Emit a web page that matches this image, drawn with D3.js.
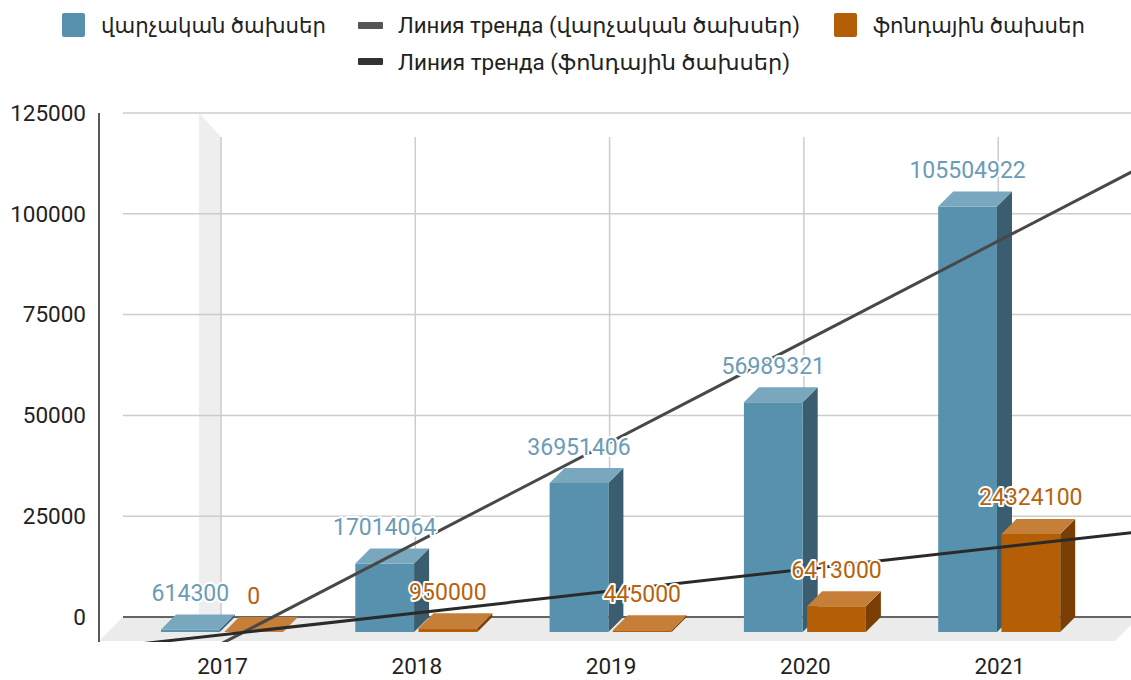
<!DOCTYPE html>
<html>
<head>
<meta charset="utf-8">
<script src="https://cdn.jsdelivr.net/npm/d3@7"></script>
<style>
  body { margin: 0; background: #fff; }
  text { font-family: Roboto, "DejaVu Sans", sans-serif; }
</style>
</head>
<body>
<script>
// data
var years = ["2017", "2018", "2019", "2020", "2021"];
var seriesNames = ["վարչական ծախսեր", "ֆոնդային ծախսեր"];
var admin = [614300, 17014064, 36951406, 56989321, 105504922];
var fund = [0, 950000, 445000, 6413000, 24324100];
var trendNames = ["Линия тренда (վարչական ծախսեր)", "Линия тренда (ֆոնդային ծախսեր)"];
var yTicks = [0, 25000000, 50000000, 75000000, 100000000, 125000000];

var W = 1131, H = 680;
var depth = 15;
var Color = {
  blueFront: "#5891ad", blueTop: "#78a7be", blueSide: "#3a5d6f", blueLabel: "#6a9cb7",
  orangeFront: "#b45f06", orangeTop: "#c57f38", orangeSide: "#793f04", orangeLabel: "#b8620c",
  trendBlue: "#484848", trendOrange: "#2a2a2a"
};

var svg = d3.select("body").append("svg")
  .attr("width", W).attr("height", H);

// scales
var x = d3.scalePoint().domain(years).range([222, 999.2]);
var x1 = d3.scaleBand().domain([0, 1]).range([-61, 61]).paddingInner(0.07);
var y = d3.scaleLinear().domain([0, 125000000]).range([617, 113]);
var idx = d3.scaleLinear().domain([0, years.length - 1]).range([x(years[0]), x(years[years.length - 1])]);

// left wall strip
svg.append("path")
  .attr("d", d3.line()([[x("2017") - 23, y(125000000)], [x("2017") - 1, y(125000000) + 24], [x("2017") - 1, y(0)], [x("2017") - 23, y(0)]]))
  .attr("fill", "#eeeeee");

// horizontal gridlines
svg.append("g").selectAll("line")
  .data(yTicks.slice(1))
  .enter().append("line")
  .attr("x1", 123).attr("x2", W)
  .attr("y1", function(d) { return y(d); }).attr("y2", function(d) { return y(d); })
  .attr("stroke", "#cccccc").attr("stroke-width", 1.5);

// vertical gridlines
svg.append("g").selectAll("line")
  .data(years)
  .enter().append("line")
  .attr("x1", function(d) { return x(d) - 1; }).attr("x2", function(d) { return x(d) - 1; })
  .attr("y1", y(125000000) + 24).attr("y2", y(0))
  .attr("stroke", "#cccccc").attr("stroke-width", 1.5);

// floor
svg.append("path")
  .attr("d", d3.line()([[123, y(0)], [1139, y(0)], [1115, y(0) + 24], [99, y(0) + 24]]))
  .attr("fill", "#ebebeb");

svg.append("line")
  .attr("x1", 123).attr("x2", W).attr("y1", y(0)).attr("y2", y(0))
  .attr("stroke", "#333").attr("stroke-width", 1.5);

// bars
var bars = [];
years.forEach(function(yr, i) {
  bars.push({year: yr, s: 0, v: admin[i]});
  bars.push({year: yr, s: 1, v: fund[i]});
});

function faces(d) {
  var xl = x(d.year) + x1(d.s), xr = xl + x1.bandwidth();
  var top = y(d.v) + depth, bot = y(0) + depth;
  return {
    front: [[xl, top], [xr, top], [xr, bot], [xl, bot]],
    top: [[xl, top], [xl + depth, top - depth], [xr + depth, top - depth], [xr, top]],
    side: [[xr, top], [xr + depth, top - depth], [xr + depth, bot - depth], [xr, bot]],
    cx: (xl + xr) / 2, ty: top
  };
}

var barG = svg.append("g").selectAll("g").data(bars).enter().append("g");
barG.append("path")
  .attr("d", function(d) { return d3.line()(faces(d).side) + "Z"; })
  .attr("fill", function(d) { return d.s ? Color.orangeSide : Color.blueSide; });
barG.append("path")
  .attr("d", function(d) { return d3.line()(faces(d).front) + "Z"; })
  .attr("fill", function(d) { return d.s ? Color.orangeFront : Color.blueFront; });
barG.append("path")
  .attr("d", function(d) { return d3.line()(faces(d).top) + "Z"; })
  .attr("fill", function(d) { return d.s ? Color.orangeTop : Color.blueTop; });

// trend lines (least squares over category index)
function fit(vals) {
  var n = vals.length, mx = (n - 1) / 2, my = d3.mean(vals);
  var num = d3.sum(vals, function(v, i) { return (i - mx) * (v - my); });
  var den = d3.sum(vals, function(v, i) { return (i - mx) * (i - mx); });
  var b = num / den;
  return function(t) { return my - b * mx + b * t; };
}

svg.append("clipPath").attr("id", "plot")
  .append("rect").attr("x", 99).attr("y", 100).attr("width", W - 99).attr("height", 542);

var trendG = svg.append("g").attr("clip-path", "url(#plot)");
[[admin, Color.trendBlue], [fund, Color.trendOrange]].forEach(function(t) {
  var f = fit(t[0]);
  var pts = [99, W + 10].map(function(px) { var k = idx.invert(px); return [px, y(f(k))]; });
  trendG.append("path")
    .attr("d", d3.line()(pts))
    .attr("stroke", t[1]).attr("stroke-width", 3).attr("fill", "none");
});

// data labels
svg.append("g").selectAll("text")
  .data(bars).enter().append("text")
  .attr("x", function(d) { return faces(d).cx; })
  .attr("y", function(d) { return faces(d).ty - 28.5; })
  .attr("text-anchor", "middle")
  .attr("font-size", 23)
  .attr("fill", function(d) { return d.s ? Color.orangeLabel : Color.blueLabel; })
  .attr("stroke", "#fff").attr("stroke-width", 4).attr("stroke-linejoin", "round")
  .attr("paint-order", "stroke")
  .text(function(d) { return d.v; });

// axes
var yAxis = svg.append("g")
  .attr("transform", "translate(99,0)")
  .call(d3.axisLeft(y).tickValues(yTicks).tickSize(0).tickPadding(13)
    .tickFormat(function(d) { return d / 1000; }));
yAxis.select(".domain").remove();
yAxis.selectAll("text").attr("font-size", 22.5).attr("fill", "#222").style("font-family", "Roboto");

svg.append("line")
  .attr("x1", 99).attr("x2", 99).attr("y1", 113).attr("y2", 642)
  .attr("stroke", "#222").attr("stroke-width", 1.5);

var xAxis = svg.append("g")
  .attr("transform", "translate(0,658)")
  .call(d3.axisBottom(x).tickSize(0).tickPadding(0));
xAxis.select(".domain").remove();
xAxis.selectAll("text").attr("font-size", 22.5).attr("fill", "#222").style("font-family", "Roboto");

// legend
var legend = [
  {type: "box", color: Color.blueFront, x: 62, y: 13, text: seriesNames[0], tx: 101, ty: 33, len: 225},
  {type: "line", color: "#555", x: 358, y: 22, text: trendNames[0], tx: 398, ty: 33, len: 402},
  {type: "box", color: Color.orangeFront, x: 834, y: 13, text: seriesNames[1], tx: 873, ty: 33, len: 212},
  {type: "line", color: "#333", x: 358, y: 58, text: trendNames[1], tx: 398, ty: 70, len: 392}
];
var lg = svg.append("g").selectAll("g").data(legend).enter().append("g");
lg.append("rect")
  .attr("x", function(d) { return d.x; }).attr("y", function(d) { return d.y; })
  .attr("width", function(d) { return d.type == "box" ? 23 : 25; })
  .attr("height", function(d) { return d.type == "box" ? 24 : 7; })
  .attr("rx", function(d) { return d.type == "box" ? 2 : 1; })
  .attr("fill", function(d) { return d.color; });
lg.append("text")
  .attr("x", function(d) { return d.tx; }).attr("y", function(d) { return d.ty; })
  .attr("font-size", 22).attr("fill", "#222")
  .attr("textLength", function(d) { return d.len; })
  .attr("lengthAdjust", "spacingAndGlyphs")
  .text(function(d) { return d.text; });
</script>
</body>
</html>
